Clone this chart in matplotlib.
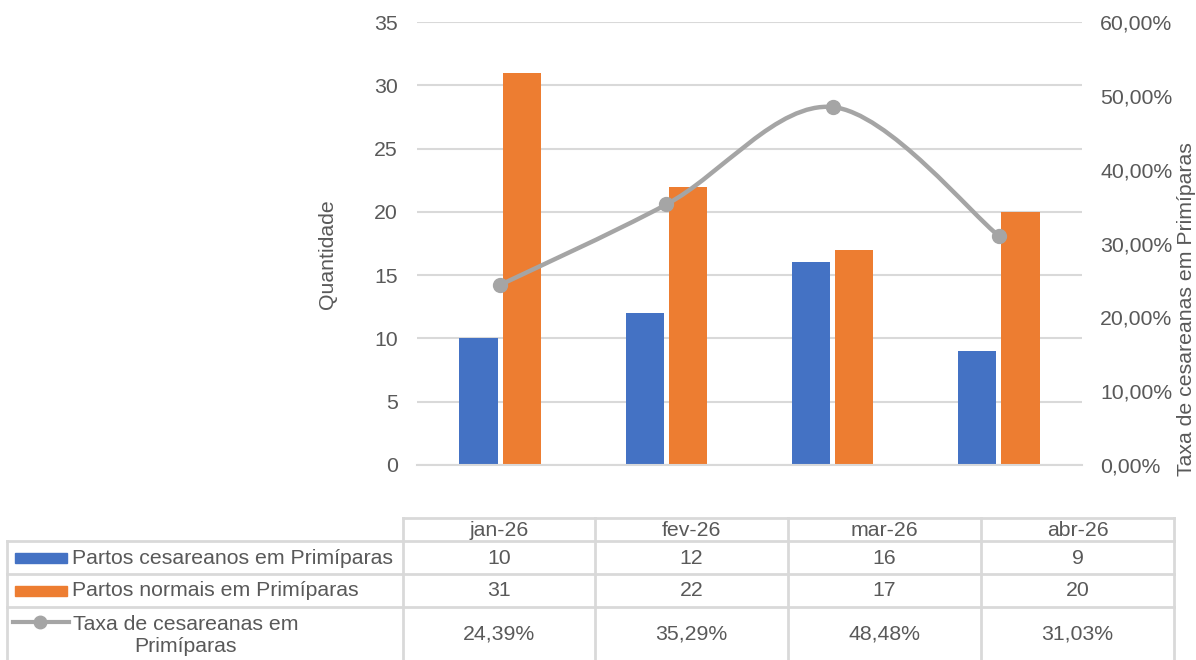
import matplotlib
matplotlib.use("Agg")
import matplotlib.pyplot as plt
import numpy as np
from matplotlib.path import Path
from matplotlib.patches import PathPatch, Rectangle
from matplotlib.lines import Line2D
from matplotlib.ticker import FuncFormatter

plt.rcParams['font.family'] = ['Liberation Sans', 'DejaVu Sans']

meses = ['jan-26', 'fev-26', 'mar-26', 'abr-26']
cesareos = [10, 12, 16, 9]
normais = [31, 22, 17, 20]
taxa = [24.39, 35.29, 48.48, 31.03]

nome_ces = 'Partos cesareanos em Primíparas'
nome_nor = 'Partos normais em Primíparas'
nome_taxa = 'Taxa de cesareanas em\nPrimíparas'

azul = '#4472C4'
laranja = '#ED7D31'
cinza = '#A5A5A5'
txt = '#595959'
grade = '#D9D9D9'
fs = 15.3

fig = plt.figure(figsize=(11.96, 6.6), dpi=100)
ax = fig.add_axes([417/1196, 1 - 465/660, 665/1196, 443/660])
ax2 = ax.twinx()

x = np.arange(len(meses))
ax.bar(x - 0.13, cesareos, 0.23, color=azul, zorder=2)
ax.bar(x + 0.13, normais, 0.23, color=laranja, zorder=2)
ax.set_xlim(-0.5, 3.5)
ax.set_ylim(0, 35)
ax.set_yticks(range(0, 36, 5))
ax.yaxis.grid(True, color=grade, lw=1.5, zorder=0)
ax.set_axisbelow(True)
ax.set_xticks([])
for s in ax.spines.values():
    s.set_visible(False)
for s in ax2.spines.values():
    s.set_visible(False)
ax.spines['bottom'].set_visible(True)
ax.spines['bottom'].set_color(grade)
ax.spines['bottom'].set_linewidth(1.5)
ax.tick_params(axis='y', length=0, labelsize=fs, labelcolor=txt, pad=14)
fig.text(327/1196, 1 - 254/660, 'Quantidade', rotation=90, ha='center', va='center',
         fontsize=fs, color=txt)

# linha suavizada (estilo Excel)
ax2.set_ylim(0, 60)
ax2.set_yticks(range(0, 61, 10))
ax2.yaxis.set_major_formatter(FuncFormatter(lambda v, p: f'{v:.2f}%'.replace('.', ',')))
ax2.tick_params(axis='y', length=0, labelsize=fs, labelcolor=txt, pad=13)
fig.text(1187/1196, 1 - 309/660, 'Taxa de cesareanas em Primíparas', rotation=90,
         ha='center', va='center', fontsize=fs, color=txt)
pts = np.column_stack([x, taxa]).astype(float)
verts = [pts[0]]
codes = [Path.MOVETO]
n = len(pts)
for i in range(n - 1):
    p0 = pts[max(i - 1, 0)]
    p1 = pts[i]
    p2 = pts[i + 1]
    p3 = pts[min(i + 2, n - 1)]
    c1 = p1 + (p2 - p0) / 6
    c2 = p2 - (p3 - p1) / 6
    verts += [c1, c2, p2]
    codes += [Path.CURVE4] * 3
ax2.add_patch(PathPatch(Path(verts, codes), fill=False, edgecolor=cinza, lw=3.2, zorder=3))
ax2.plot(x, taxa, 'o', color=cinza, ms=10, zorder=4)

# tabela de dados
tb = fig.add_axes([0, 0, 1, 1])
tb.set_xlim(0, 1196)
tb.set_ylim(660, 0)
tb.axis('off')
tb.patch.set_alpha(0)
cols = [403, 595, 788, 981, 1174]
rows = [518, 541, 574, 607]
lk = dict(color=grade, lw=2)
tb.add_line(Line2D([cols[0], cols[-1]], [rows[0], rows[0]], **lk))
for r in rows[1:]:
    tb.add_line(Line2D([7, cols[-1]], [r, r], **lk))
tb.add_line(Line2D([7, 7], [rows[1], 660], **lk))
for c in cols:
    tb.add_line(Line2D([c, c], [rows[0], 660], **lk))
for j, m in enumerate(meses):
    cx = (cols[j] + cols[j + 1]) / 2
    tb.text(cx, 530, m, ha='center', va='center', fontsize=fs, color=txt)
    tb.text(cx, 558, str(cesareos[j]), ha='center', va='center', fontsize=fs, color=txt)
    tb.text(cx, 591, str(normais[j]), ha='center', va='center', fontsize=fs, color=txt)
    tb.text(cx, 634, f'{taxa[j]:.2f}%'.replace('.', ','), ha='center', va='center',
            fontsize=fs, color=txt)
tb.add_patch(Rectangle((15, 553), 52, 10, color=azul))
tb.add_patch(Rectangle((15, 586), 52, 10, color=laranja))
tb.add_line(Line2D([13, 69], [622, 622], color=cinza, lw=3))
tb.plot([40], [622], 'o', color=cinza, ms=9)
tb.text(72, 558, nome_ces, ha='left', va='center', fontsize=fs, color=txt)
tb.text(72, 591, nome_nor, ha='left', va='center', fontsize=fs, color=txt)
tb.text(73, 636, nome_taxa, ha='left', va='center', fontsize=fs, color=txt,
        multialignment='center', linespacing=1.2)

fig.savefig('out.png', dpi=100)
